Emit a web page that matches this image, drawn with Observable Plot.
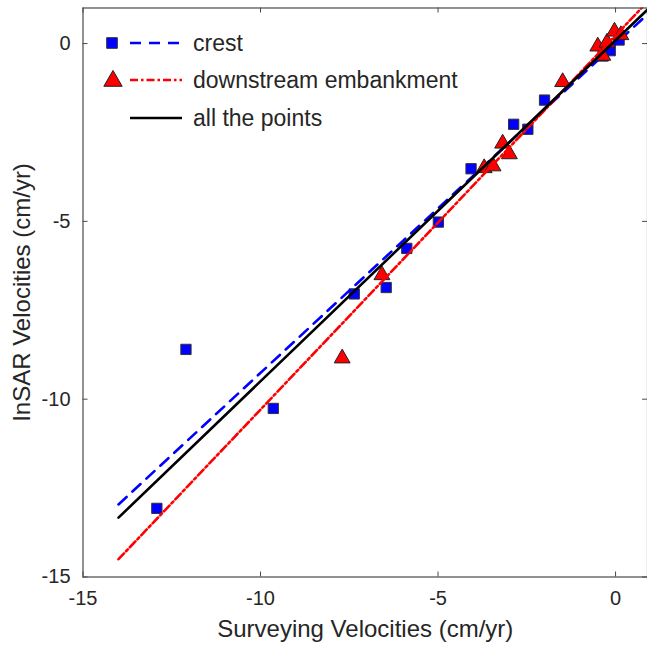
<!DOCTYPE html>
<html><head><meta charset="utf-8">
<script src="https://cdn.jsdelivr.net/npm/d3@7"></script>
<script src="https://cdn.jsdelivr.net/npm/@observablehq/plot@0.6"></script>
<style>
body{margin:0;background:#fff;}
#wrap{position:relative;width:647px;height:648px;overflow:hidden;}
#legend{position:absolute;left:0;top:0;}
</style></head><body><div id="wrap"></div>
<script>
// crest (blue squares)
const crestX = [-12.10, -12.92, -9.64, -7.36, -6.46, -5.88, -4.99, -4.07, -2.87, -2.47, -2.00, -0.35, -0.15, 0.10];
const crestY = [-8.60, -13.07, -10.26, -7.04, -6.86, -5.76, -5.02, -3.52, -2.27, -2.41, -1.59, -0.35, -0.20, 0.10];
// downstream embankment (red triangles)
const embX = [-7.70, -6.58, -3.70, -3.45, -3.18, -2.99, -1.49, -0.50, -0.36, -0.24, -0.03, 0.15];
const embY = [-8.85, -6.51, -3.50, -3.45, -2.81, -3.11, -1.08, -0.08, -0.34, 0.03, 0.34, 0.24];
// fitted lines, end points
const lineX = [-14, 1];
const crestLineY = [-12.96, 0.915];
const embLineY = [-14.50, 1.28];
const allLineY = [-13.33, 1.05];
// ticks
const xTicks = [-15, -10, -5, 0];
const yTicks = [-15, -10, -5, 0];
const legendLabels = ["crest", "downstream embankment", "all the points"];

const crest = crestX.map((x, i) => ({x, y: crestY[i]}));
const emb = embX.map((x, i) => ({x, y: embY[i]}));
const mk = ys => lineX.map((x, i) => ({x, y: ys[i]}));

const FONT = "Arial, 'Liberation Sans', Helvetica, sans-serif";
const AX = "#4a4a4a";
const TXT = "#262626";
const W = 647, H = 648, ML = 82.5, MR = 0, MT = 7.5, MB = 71.5;
const FW = W - ML - MR, FH = H - MT - MB, TL = 5;

const plot = Plot.plot({
  width: W, height: H,
  marginLeft: ML, marginRight: MR, marginTop: MT, marginBottom: MB,
  style: {fontFamily: FONT, color: TXT, background: "white", overflow: "visible"},
  x: {domain: [-15, 0.9]},
  y: {domain: [-15, 1]},
  marks: [
    Plot.dot(crest, {x: "x", y: "y", symbol: "square", r: 5.8, fill: "#0000ff", stroke: "#333", strokeWidth: 1}),
    Plot.line(mk(crestLineY), {x: "x", y: "y", stroke: "#0000ff", strokeWidth: 2.6, strokeDasharray: "11,8", clip: true}),
    Plot.dot(emb, {x: "x", y: "y", symbol: "triangle", r: 5.9, fill: "#ff0000", stroke: "#222", strokeWidth: 1}),
    Plot.line(mk(embLineY), {x: "x", y: "y", stroke: "#ff0000", strokeWidth: 2.6, strokeDasharray: "8,3,2.5,3", clip: true}),
    Plot.line(mk(allLineY), {x: "x", y: "y", stroke: "#000", strokeWidth: 2.6, clip: true}),
    Plot.frame({stroke: AX, strokeWidth: 1.2}),
    // inward ticks on all four sides
    Plot.tickX(xTicks, {x: d => d, insetTop: FH - TL, stroke: AX}),
    Plot.tickX(xTicks, {x: d => d, insetBottom: FH - TL, stroke: AX}),
    Plot.tickY(yTicks, {y: d => d, insetRight: FW - TL, stroke: AX}),
    Plot.tickY(yTicks, {y: d => d, insetLeft: FW - TL, stroke: AX}),
    Plot.axisX(xTicks, {anchor: "bottom", tickSize: 0, tickPadding: 14, fill: TXT,
      tickFormat: d => String(d), label: "Surveying Velocities (cm/yr)", labelAnchor: "center", labelOffset: 60, labelArrow: "none"}),
    Plot.axisY(yTicks, {anchor: "left", tickSize: 0, tickPadding: 12.5, fill: TXT,
      tickFormat: d => String(d), label: "InSAR Velocities (cm/yr)", labelAnchor: "center", labelOffset: 70, labelArrow: "none"})
  ]
});
const sp = d3.select(plot);
sp.selectAll("g[aria-label='x-axis tick label'], g[aria-label='y-axis tick label']")
  .style("font-size", "20px");
sp.selectAll("g[aria-label='x-axis tick label'] text, g[aria-label='y-axis tick label'] text")
  .style("font-size", "20px");
sp.selectAll("g[aria-label='x-axis label'], g[aria-label='y-axis label']").style("font-size", "24px");
sp.selectAll("g[aria-label='x-axis label'] text, g[aria-label='y-axis label'] text")
  .style("font-size", "24px")
  .each(function() { const t = d3.select(this); t.text(t.text().replace(/\s*[→←↑↓]\s*/g, "")); });

const wrap = document.getElementById("wrap");
wrap.appendChild(plot);

// legend
const lg = d3.select(wrap).append("svg").attr("id", "legend").attr("width", W).attr("height", 160)
  .style("font-family", FONT);
const rows = [43, 80, 118];
const styles = [
  {stroke: "#0000ff", dash: "11,8"},
  {stroke: "#ff0000", dash: "8,3,2.5,3"},
  {stroke: "#000", dash: null}
];
rows.forEach((cy, i) => {
  const g = lg.append("g");
  if (i === 0) g.append("path").attr("d", d3.symbol(d3.symbolSquare, Math.PI * 6 * 6)())
    .attr("transform", `translate(112,${cy})`).attr("fill", "#0000ff").attr("stroke", "#333");
  if (i === 1) g.append("path").attr("d", d3.symbol(d3.symbolTriangle, Math.PI * 6.8 * 6.8)())
    .attr("transform", `translate(113,${cy + 1})`).attr("fill", "#ff0000").attr("stroke", "#222");
  g.append("line").attr("x1", 130).attr("x2", 182).attr("y1", cy).attr("y2", cy)
    .attr("stroke", styles[i].stroke).attr("stroke-width", 2.6).attr("stroke-dasharray", styles[i].dash);
  g.append("text").attr("x", 193).attr("y", cy).attr("dy", "0.35em").attr("font-size", 23)
    .attr("fill", TXT).text(legendLabels[i]);
});
</script>
</body></html>
